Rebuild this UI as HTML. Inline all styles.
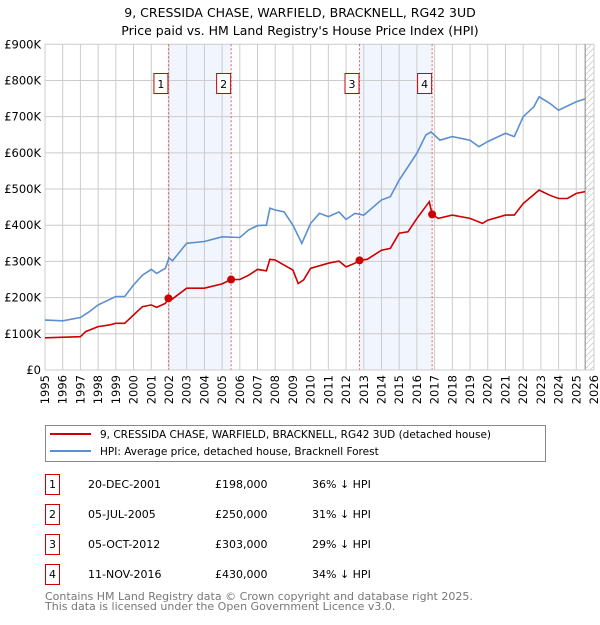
<!DOCTYPE html>
<html><head><meta charset="utf-8"><style>
body{margin:0;background:#fff;font-family:"Liberation Sans","DejaVu Sans",sans-serif;}
svg text{font-family:"DejaVu Sans","Liberation Sans",sans-serif;}
</style></head><body>
<svg id="chart" width="600" height="620" xmlns="http://www.w3.org/2000/svg">
<text x="300" y="17" text-anchor="middle" font-size="12.5">9, CRESSIDA CHASE, WARFIELD, BRACKNELL, RG42 3UD</text>
<text x="300" y="35" text-anchor="middle" font-size="12.5">Price paid vs. HM Land Registry's House Price Index (HPI)</text>
<g id="plot"></g>
<g>
<rect x="45.5" y="425.5" width="500" height="36" fill="#fff" stroke="#888"/>
<line x1="50" y1="434" x2="91" y2="434" stroke="#cc0000" stroke-width="2"/>
<text x="100" y="438" font-size="10.5">9, CRESSIDA CHASE, WARFIELD, BRACKNELL, RG42 3UD (detached house)</text>
<line x1="50" y1="451" x2="91" y2="451" stroke="#5b8fd0" stroke-width="2"/>
<text x="100" y="455" font-size="10.5">HPI: Average price, detached house, Bracknell Forest</text>
</g>
<g id="table" font-size="11"></g>
<text x="45" y="600" font-size="11" fill="#777">Contains HM Land Registry data © Crown copyright and database right 2025.</text>
<text x="45" y="610" font-size="11" fill="#777">This data is licensed under the Open Government Licence v3.0.</text>
</svg>
<script>
const hpiYears=[1995,1996,1997,1997.5,1998,1999,1999.5,2000,2000.5,2001,2001.3,2001.8,2002,2002.2,2003,2004,2005,2006,2006.5,2007,2007.5,2007.7,2008,2008.5,2009,2009.5,2010,2010.5,2011,2011.6,2012,2012.5,2013,2014,2014.5,2015,2016,2016.5,2016.8,2017.3,2018,2019,2019.5,2020,2021,2021.5,2022,2022.6,2022.9,2023.5,2024,2024.6,2025,2025.5];
const hpiValues=[138,136,145,161,180,203,203,235,262,278,267,281,310,302,350,355,368,366,387,399,400,447,442,437,400,350,405,433,424,437,416,433,428,470,479,525,599,649,658,635,645,635,617,631,654,645,700,727,755,737,718,732,741,749];
const redYears=[1995,1997,1997.3,1998,1998.6,1999,1999.5,2000,2000.5,2001,2001.3,2001.8,2001.97,2002.1,2003,2004,2005,2005.5,2006,2006.5,2007,2007.5,2007.7,2008,2008.5,2009,2009.3,2009.6,2010,2011,2011.6,2012,2012.5,2012.76,2013.2,2014,2014.5,2015,2015.5,2016,2016.7,2016.86,2017.2,2018,2019,2019.7,2020,2021,2021.5,2022,2022.9,2023.5,2024,2024.5,2025,2025.5];
const redValues=[89,92,106,120,124,129,129,152,175,180,173,184,198,193,226,226,238,250,250,262,278,274,306,304,290,276,239,249,281,295,301,285,295,303,306,331,336,378,382,419,465,430,419,428,419,405,414,428,428,460,497,483,474,474,488,493];
const saleLabels=["1","2","3","4"];
const saleYears=[2001.97,2005.51,2012.76,2016.86];
const salePrices=[198,250,303,430];
const saleDates=["20-DEC-2001","05-JUL-2005","05-OCT-2012","11-NOV-2016"];
const salePriceText=["£198,000","£250,000","£303,000","£430,000"];
const saleDiff=["36% ↓ HPI","31% ↓ HPI","29% ↓ HPI","34% ↓ HPI"];
const yTicks=[0,100,200,300,400,500,600,700,800,900];
const yTickLabels=["£0","£100K","£200K","£300K","£400K","£500K","£600K","£700K","£800K","£900K"];
const xTicks=[];for(let y=1995;y<=2026;y++)xTicks.push(y);
const dataEnd=2025.5;

const NS="http://www.w3.org/2000/svg";
const X0=45,X1=594,Y0=370,Y1=44.3;
const xs=y=>X0+(y-1995)*(X1-X0)/31;
const ys=v=>Y0-v*(Y0-Y1)/900;
const plot=document.getElementById('plot');
function mk(tag,attrs,parent){const e=document.createElementNS(NS,tag);for(const k in attrs)e.setAttribute(k,attrs[k]);(parent||plot).appendChild(e);return e;}

for(let i=0;i<saleYears.length;i+=2){
  const r=mk('rect',{x:xs(saleYears[i]),y:Y1,width:xs(saleYears[i+1])-xs(saleYears[i]),height:Y0-Y1,fill:'#eef3fc',opacity:0.8});
  
  
}
const defs=mk('defs',{});
const pat=mk('pattern',{id:'hatch',width:6,height:6,patternUnits:'userSpaceOnUse'},defs);
mk('line',{x1:0,y1:6,x2:6,y2:0,stroke:'#ccc','stroke-width':0.8},pat);
const hr=mk('rect',{x:xs(dataEnd),y:Y1,width:X1-xs(dataEnd),height:Y0-Y1,fill:'url(#hatch)'});


yTicks.forEach((v,i)=>{
  const l=mk('line',{x1:X0,x2:X1,y1:ys(v),y2:ys(v),stroke:'#cccccc','stroke-width':1});
  
  
  const t=mk('text',{x:X0-4,y:ys(v)+4,'text-anchor':'end','font-size':11.5});
  t.textContent=yTickLabels[i];
  
  
});
xTicks.forEach(y=>{
  const l=mk('line',{x1:xs(y),x2:xs(y),y1:Y1,y2:Y0,stroke:'#cccccc','stroke-width':1});
  
  
  const t=mk('text',{x:0,y:0,'text-anchor':'end','font-size':11.5,transform:`translate(${xs(y)+4},${Y0+5}) rotate(-90)`});
  t.textContent=y;
  
  
});
const dl=mk('line',{x1:xs(dataEnd),x2:xs(dataEnd),y1:Y1,y2:Y0,stroke:'#888','stroke-width':1});


saleYears.forEach((y,i)=>{
  const l=mk('line',{x1:xs(y),x2:xs(y),y1:Y1,y2:Y0,stroke:'#e06060','stroke-width':1,'stroke-dasharray':'2,2'});
  
  
  const b=mk('rect',{x:xs(y)-14.5,y:73.5,width:14,height:20,fill:'#fff',stroke:'#cc0000'});
  
  
  const t=mk('text',{x:xs(y)-7.5,y:88,'text-anchor':'middle','font-size':11});
  t.textContent=saleLabels[i];
  
  
});
function pts(xa,va){return xa.map((y,i)=>xs(y).toFixed(1)+','+ys(va[i]).toFixed(1)).join(' ');}
const hl=mk('polyline',{points:pts(hpiYears,hpiValues),fill:'none',stroke:'#5b8fd0','stroke-width':1.6});


const rl=mk('polyline',{points:pts(redYears,redValues),fill:'none',stroke:'#cc0000','stroke-width':1.6});


saleYears.forEach((y,i)=>{
  const c=mk('circle',{cx:xs(y),cy:ys(salePrices[i]),r:4,fill:'#cc0000'});
  
  
});
const ax=mk('line',{x1:X0,x2:X1,y1:Y0,y2:Y0,stroke:'#ccc'});



const tb=document.getElementById('table');
saleLabels.forEach((s,i)=>{
  const yy=483+i*30;
  const b=mk('rect',{x:45.5,y:yy-8.5,width:14,height:20,fill:'#fff',stroke:'#cc0000'},tb);
  
  
  const cols=[[52.5,s,'middle'],[88,saleDates[i],'start'],[215,salePriceText[i],'start'],[312,saleDiff[i],'start']];
  cols.forEach((c,j)=>{
    const t=mk('text',{x:c[0],y:yy+5,'text-anchor':c[2]},tb);
    t.textContent=c[1];
    
    
  });
});
</script>
</body></html>
